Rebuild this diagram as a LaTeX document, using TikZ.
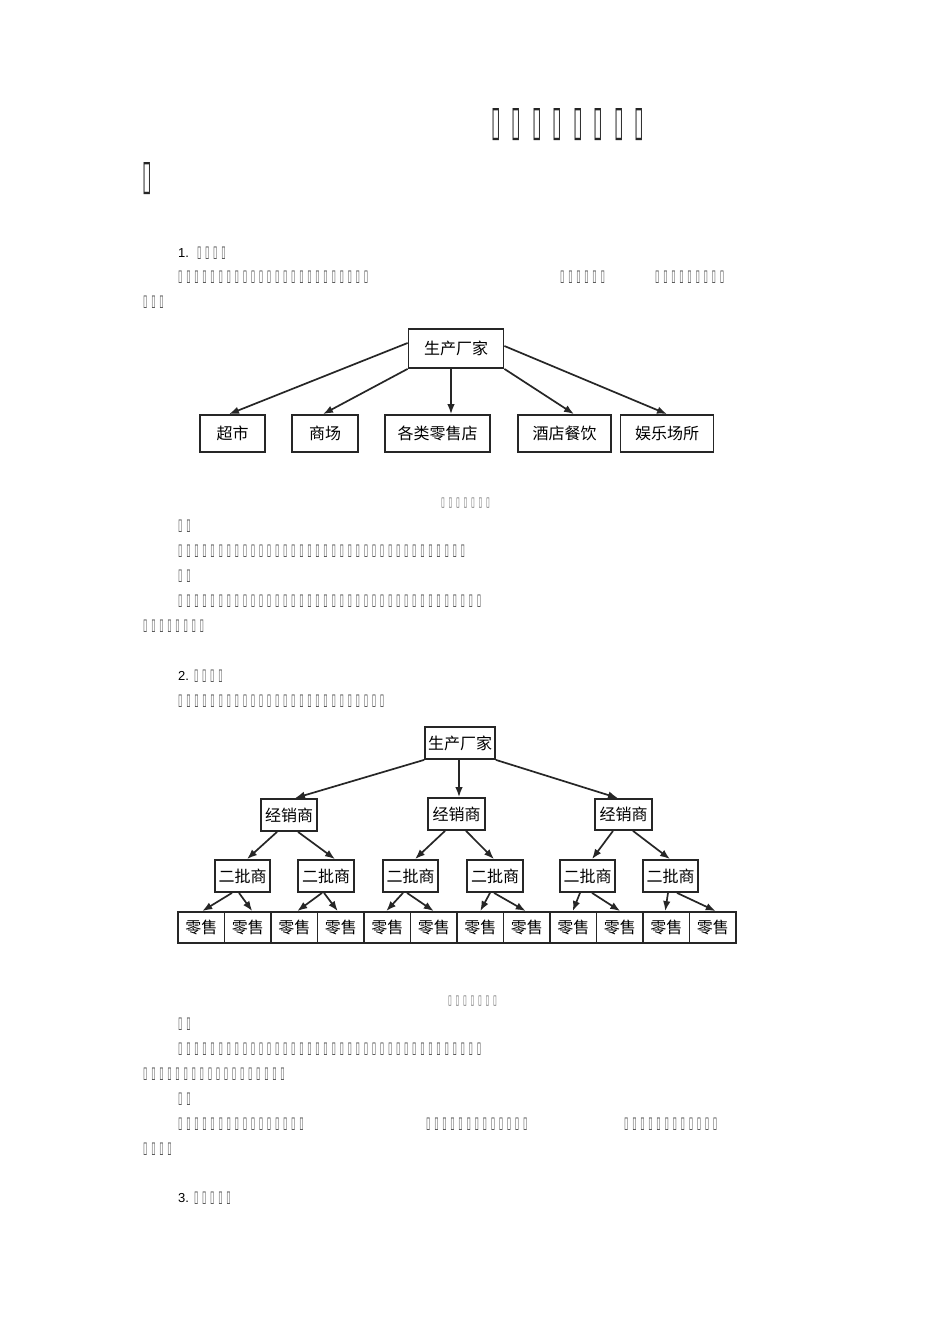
\documentclass[tikz,border=0pt]{standalone}
\usepackage{fontspec}
\setmainfont{Liberation Sans}
\newfontfamily\cjk{Noto Sans CJK SC}
\newfontfamily\djv{DejaVu Sans}
\usetikzlibrary{arrows.meta,calc}
\ExplSyntaxOn
\NewDocumentCommand\rep{mm}{\prg_replicate:nn{#2}{#1}}
\ExplSyntaxOff
\newcommand\tfb{\makebox[8.07pt][l]{\resizebox{4.4pt}{10.5pt}{\djv ▯}}}
\newcommand\tfc{\makebox[7.5pt][l]{\resizebox{3.8pt}{8.5pt}{\djv ▯}}}
\newcommand\tft{\makebox[20.5pt][l]{\resizebox{9.5pt}{27pt}{\djv ▯}}}
\begin{document}
\begin{tikzpicture}[x=1pt,y=-1pt,
  box/.style={draw=black!85,line width=1.8pt,inner sep=0pt,font=\cjk\fontsize{16}{16}\selectfont},
  arr/.style={line width=1.7pt,draw=black!85,-{Latex[length=10pt,width=7.5pt]}},
  tl/.style={anchor=west,inner sep=0pt,text=black!70,font=\fontsize{13}{13}\selectfont},
  captext/.style={anchor=west,inner sep=0pt,text=black!60},
  ttl/.style={anchor=west,inner sep=0pt,text=black!85}]
\fill[white] (0,0) rectangle (950,1344);
\useasboundingbox (0,0) rectangle (950,1344);

% title
\node[ttl] (title1) at (491,125) {\rep{\tft}{8}};
\node[ttl] (title2) at (142,178.5) {\tft};

% section 1 text
\node[tl] (a1) at (178,253) {\textcolor{black}{1.}\hspace{8pt}\rep{\tfb}{4}};
\node[tl] (a2) at (178,277) {\rep{\tfb}{24}};
\node[tl] (a3) at (560,277) {\rep{\tfb}{6}};
\node[tl] (a4) at (655,277) {\rep{\tfb}{9}};
\node[tl] (a5) at (143,302) {\rep{\tfb}{3}};

% diagram 1
\node[box,minimum width=95pt,minimum height=39pt] (f1) at (456,348.5) {生产厂家};
\node[box,minimum width=65pt,minimum height=37pt] (c1) at (232.5,433.5) {超市};
\node[box,minimum width=66pt,minimum height=37pt] (c2) at (325,433.5) {商场};
\node[box,minimum width=105pt,minimum height=37pt] (c3) at (437.5,433.5) {各类零售店};
\node[box,minimum width=93pt,minimum height=37pt] (c4) at (564.5,433.5) {酒店餐饮};
\node[box,minimum width=93pt,minimum height=37pt] (c5) at (667,433.5) {娱乐场所};
\draw[arr] ($(f1.west)+(0,-5.5)$) -- ($(c1.north)+(-3.5,0)$);
\draw[arr] (f1.south west) -- ($(c2.north)+(-2,0)$);
\draw[arr] ($(f1.south)+(-5,0)$) -- ($(c3.north)+(13.5,0)$);
\draw[arr] (f1.south east) -- ($(c4.north)+(9.5,0)$);
\draw[arr] ($(f1.east)+(0,-2.5)$) -- (c5.north);

\node[captext] (cap1) at (441,503) {\rep{\tfc}{7}};

\node[tl] (b1) at (178,526) {\rep{\tfb}{2}};
\node[tl] (b2) at (178,551) {\rep{\tfb}{36}};
\node[tl] (b3) at (178,576) {\rep{\tfb}{2}};
\node[tl] (b4) at (178,601) {\rep{\tfb}{38}};
\node[tl] (b5) at (143,626) {\rep{\tfb}{8}};

% section 2 text
\node[tl] (s1) at (178,676) {\textcolor{black}{2.}\hspace{5pt}\rep{\tfb}{4}};
\node[tl] (s2) at (178,701) {\rep{\tfb}{26}};

% diagram 2
\node[box,minimum width=70pt,minimum height=32pt] (g) at (460,743) {生产厂家};
\node[box,minimum width=56pt,minimum height=32pt] (d1) at (289,815) {经销商};
\node[box,minimum width=57pt,minimum height=32pt] (d2) at (456.5,814) {经销商};
\node[box,minimum width=57pt,minimum height=31pt] (d3) at (623.5,814.5) {经销商};
\node[box,minimum width=55pt,minimum height=32pt] (e1) at (242.5,876) {二批商};
\node[box,minimum width=56pt,minimum height=32pt] (e2) at (326,876) {二批商};
\node[box,minimum width=55pt,minimum height=32pt] (e3) at (410.5,876) {二批商};
\node[box,minimum width=56pt,minimum height=32pt] (e4) at (495,876) {二批商};
\node[box,minimum width=55pt,minimum height=32pt] (e5) at (587.5,876) {二批商};
\node[box,minimum width=55pt,minimum height=32pt] (e6) at (670.5,876) {二批商};
\foreach \i in {1,...,12}{
  \node[box,minimum width=46.5pt,minimum height=31pt] (r\i) at ({178+46.5*(\i-0.5)},927.5) {零售};
}
\draw[arr] (g.south west) -- ($(d1.north)+(6,0)$);
\draw[arr] ($(g.south)+(-1,0)$) -- ($(d2.north)+(2.5,0)$);
\draw[arr] (g.south east) -- ($(d3.north)+(-5.5,0)$);

\draw[arr] ($(d1.south)+(-12,0)$) -- ($(e1.north)+(4.5,0)$);
\draw[arr] ($(d1.south)+(9,0)$) -- ($(e2.north)+(9,0)$);
\draw[arr] ($(d2.south)+(-11.5,0)$) -- ($(e3.north)+(4.5,0)$);
\draw[arr] ($(d2.south)+(9.5,0)$) -- ($(e4.north)+(-1,0)$);
\draw[arr] ($(d3.south)+(-10.5,0)$) -- ($(e5.north)+(4.5,0)$);
\draw[arr] ($(d3.south)+(9.5,0)$) -- ($(e6.north)+(-0.5,0)$);

\draw[arr] ($(e1.south)+(-10.5,0)$) -- ($(r1.north)+(1,0)$);
\draw[arr] ($(e1.south)+(-3.5,0)$) -- ($(r2.north)+(4.5,0)$);
\draw[arr] ($(e2.south)+(-4,0)$) -- ($(r3.north)+(3,0)$);
\draw[arr] ($(e2.south)+(-2,0)$) -- ($(r4.north)+(-3,0)$);
\draw[arr] ($(e3.south)+(-7.5,0)$) -- ($(r5.north)+(-1,0)$);
\draw[arr] ($(e3.south)+(-3.5,0)$) -- (r6.north);
\draw[arr] ($(e4.south)+(-5,0)$) -- (r7.north);
\draw[arr] ($(e4.south)+(-1,0)$) -- ($(r8.north)+(-1,0)$);
\draw[arr] ($(e5.south)+(-7.5,0)$) -- ($(r9.north)+(-0.5,0)$);
\draw[arr] ($(e5.south)+(4.5,0)$) -- ($(r10.north)+(0.5,0)$);
\draw[arr] ($(e6.south)+(-2.5,0)$) -- ($(r11.north)+(-1,0)$);
\draw[arr] ($(e6.south)+(6.5,0)$) -- ($(r12.north)+(3,0)$);

\node[captext] (cap2) at (448,1001) {\rep{\tfc}{7}};

\node[tl] (p1) at (178,1024) {\rep{\tfb}{2}};
\node[tl] (p2) at (178,1049) {\rep{\tfb}{38}};
\node[tl] (p3) at (143,1074) {\rep{\tfb}{18}};
\node[tl] (p4) at (178,1099) {\rep{\tfb}{2}};
\node[tl] (p5) at (178,1124) {\rep{\tfb}{16}};
\node[tl] (p6) at (426,1124) {\rep{\tfb}{13}};
\node[tl] (p7) at (624,1124) {\rep{\tfb}{12}};
\node[tl] (p8) at (143,1149) {\rep{\tfb}{4}};

\node[tl] (q1) at (178,1198) {\textcolor{black}{3.}\hspace{5pt}\rep{\tfb}{5}};
\end{tikzpicture}
\end{document}
